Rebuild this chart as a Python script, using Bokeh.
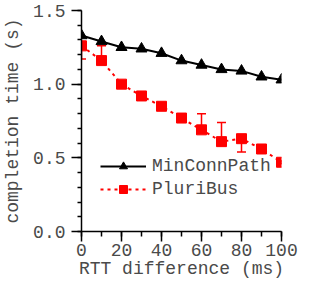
from bokeh.plotting import figure
from bokeh.models import (ColumnDataSource, Range1d, FixedTicker, PrintfTickFormatter,
                          Whisker, TeeHead, Legend, LegendItem)
from bokeh.embed import file_html
from bokeh.resources import INLINE

x = [0, 10, 20, 30, 40, 50, 60, 70, 80, 90, 100]
minconn = [1.33, 1.29, 1.25, 1.24, 1.21, 1.16, 1.13, 1.10, 1.09, 1.05, 1.03]
pluri = [1.26, 1.16, 1.00, 0.92, 0.85, 0.77, 0.69, 0.61, 0.63, 0.56, 0.47]
pluri_lo = [1.17, 1.14, 0.99, 0.91, 0.84, 0.76, 0.68, 0.60, 0.54, 0.55, 0.46]
pluri_hi = [1.29, 1.26, 1.01, 0.93, 0.86, 0.78, 0.80, 0.74, 0.64, 0.57, 0.48]

FONT = "Liberation Mono"
TXT = "#4a4a4a"

p = figure(width=298, height=281, output_backend="svg", toolbar_location=None,
           x_range=Range1d(0, 100), y_range=Range1d(0, 1.5),
           min_border_left=76, min_border_right=17, min_border_top=10, min_border_bottom=50)
p.outline_line_color = None
p.xgrid.visible = False
p.ygrid.visible = False
p.background_fill_color = "white"
p.border_fill_color = "white"

src = ColumnDataSource(dict(x=x, m=minconn, p=pluri, lo=pluri_lo, hi=pluri_hi))

l1 = p.line("x", "m", source=src, line_color="black", line_width=2)
m1 = p.scatter("x", "m", source=src, marker="triangle", size=11, fill_color="black",
               line_color="black")
l2 = p.line("x", "p", source=src, line_color="#ff0000", line_width=2, line_dash="3 4")
w = Whisker(source=src, base="x", lower="lo", upper="hi", line_color="#ff0000", line_width=1.5,
            upper_head=TeeHead(size=9, line_color="#ff0000", line_width=1.5),
            lower_head=TeeHead(size=9, line_color="#ff0000", line_width=1.5))
p.add_layout(w)
m2 = p.scatter("x", "p", source=src, marker="square", size=10, fill_color="#ff0000",
               line_color="#ff0000")

p.xaxis.ticker = FixedTicker(ticks=[0, 20, 40, 60, 80, 100], minor_ticks=list(range(0, 101, 10)))
p.yaxis.ticker = FixedTicker(ticks=[0, 0.5, 1.0, 1.5], minor_ticks=[i / 10 for i in range(16)])
p.yaxis.formatter = PrintfTickFormatter(format="%.1f")

for ax in (p.xaxis[0], p.yaxis[0]):
    ax.axis_line_width = 1.5
    ax.axis_line_color = "black"
    ax.major_tick_line_color = "black"
    ax.minor_tick_line_color = "black"
    ax.major_tick_line_width = 1.5
    ax.minor_tick_line_width = 1.5
    ax.major_tick_out = 10
    ax.major_tick_in = 0
    ax.minor_tick_in = 0
    ax.major_label_text_font = FONT
    ax.major_label_text_font_size = "18px"
    ax.major_label_text_color = TXT
    ax.axis_label_text_font = FONT
    ax.axis_label_text_font_size = "18px"
    ax.axis_label_text_font_style = "normal"
    ax.axis_label_text_color = TXT

p.xaxis.minor_tick_out = 5
p.yaxis.minor_tick_out = 4
p.xaxis.axis_label = "RTT difference (ms)"
p.yaxis.axis_label = "completion time (s)"
p.xaxis.major_label_standoff = 2
p.yaxis.major_label_standoff = 6
p.xaxis.axis_label_standoff = 0
p.yaxis.axis_label_standoff = 7

legend = Legend(items=[LegendItem(label="MinConnPath", renderers=[l1, m1]),
                       LegendItem(label="PluriBus", renderers=[l2, m2])],
                location=(19, 32), padding=0, margin=0, spacing=3,
                glyph_width=46, glyph_height=20, label_height=20, label_standoff=6,
                label_text_font=FONT, label_text_font_size="18px", label_text_color=TXT,
                border_line_color=None, background_fill_alpha=0)
p.add_layout(legend)

open("out.html", "w").write(file_html(p, INLINE))
